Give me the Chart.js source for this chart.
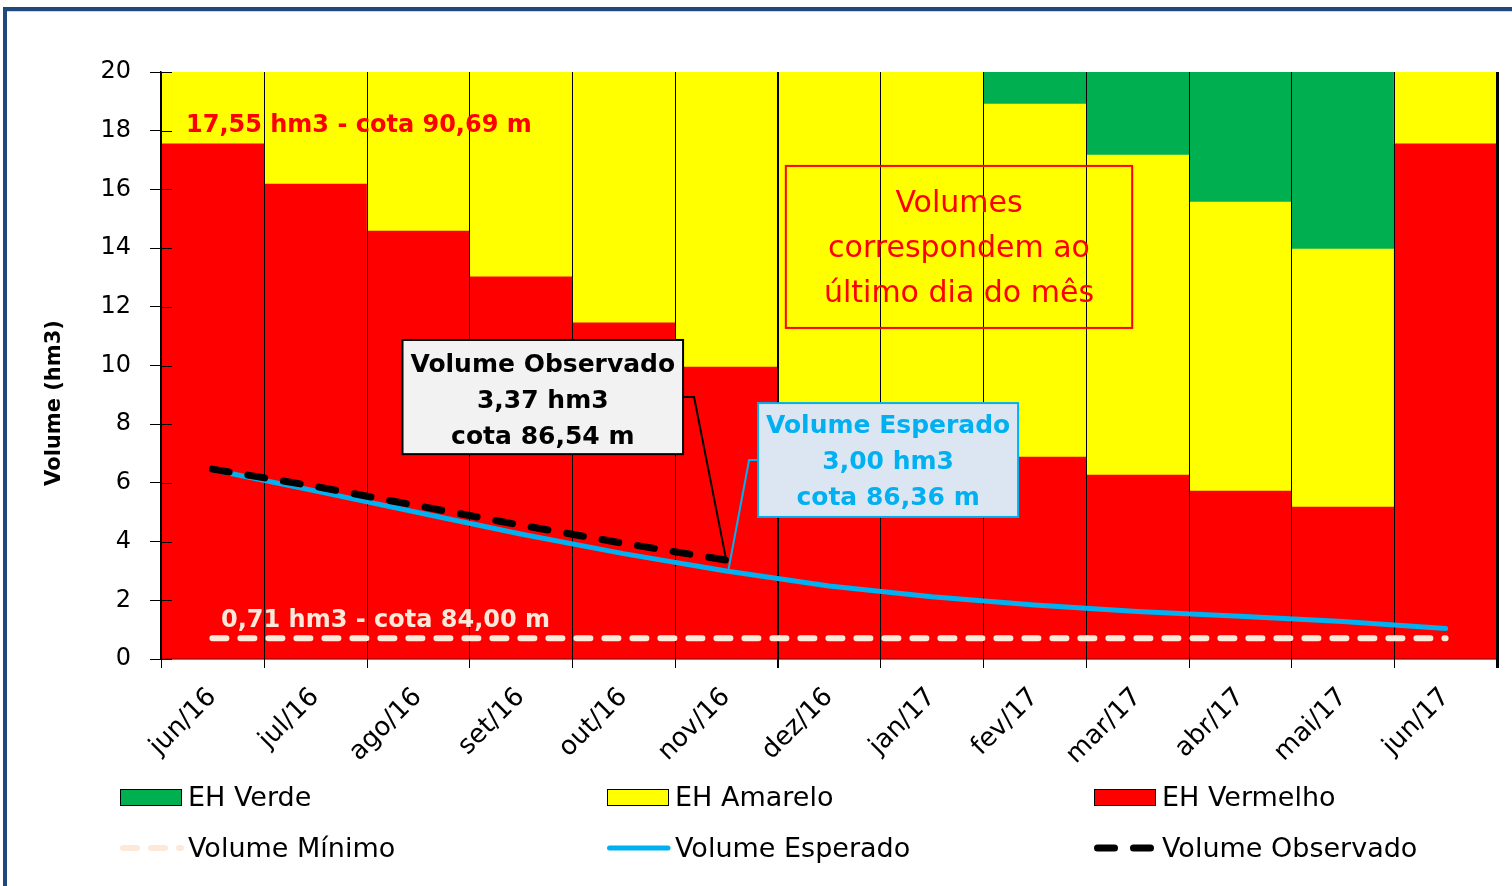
<!DOCTYPE html>
<html>
<head>
<meta charset="utf-8">
<script src="https://cdn.jsdelivr.net/npm/chart.js@4.4.1/dist/chart.umd.min.js"></script>
<style>
  html, body { margin: 0; padding: 0; background: #fff; }
  body { width: 1512px; height: 886px; overflow: hidden; position: relative; }
  #frame { position: absolute; left: 3px; top: 7px; width: 1600px; height: 1000px;
           border-left: 4px solid #1F497D; border-top: 4px solid #1F497D;
           box-shadow: inset 0 1px 0 #d4d4d4; }
  #wrap { position: absolute; left: 0; top: 0; width: 1512px; height: 886px; }
</style>
</head>
<body>
<div id="frame"></div>
<div id="wrap"><canvas id="chart" width="1512" height="886"></canvas></div>
<script>
const FONT = 'DejaVu Sans';

const months = ['jun/16', 'jul/16', 'ago/16', 'set/16', 'out/16', 'nov/16', 'dez/16',
                'jan/17', 'fev/17', 'mar/17', 'abr/17', 'mai/17', 'jun/17'];

// faixas empilhadas (hm3)
const ehVermelho = [17.55, 16.18, 14.58, 13.02, 11.45, 9.95, 8.50, 7.60, 6.88, 6.27, 5.72, 5.18, 17.55];
const ehAmarelo  = [2.45, 3.82, 5.42, 6.98, 8.55, 10.05, 11.50, 12.40, 12.03, 10.90, 9.85, 8.79, 2.45];
const ehVerde    = [0, 0, 0, 0, 0, 0, 0, 0, 1.09, 2.83, 4.43, 6.03, 0];

const volumeMinimo    = [0.71, 0.71, 0.71, 0.71, 0.71, 0.71, 0.71, 0.71, 0.71, 0.71, 0.71, 0.71, 0.71];
const volumeEsperado  = [6.45, 5.73, 4.99, 4.26, 3.59, 3.00, 2.49, 2.12, 1.84, 1.62, 1.46, 1.28, 1.04];
const volumeObservado = [6.47, 5.88, 5.22, 4.56, 3.94, 3.37, null, null, null, null, null, null, null];

const yTicks = [0, 2, 4, 6, 8, 10, 12, 14, 16, 18, 20];

// legenda na ordem do original
const legendOrder = ['EH Verde', 'EH Amarelo', 'EH Vermelho', 'Volume Mínimo', 'Volume Esperado', 'Volume Observado'];

function drawBox(ctx, x1, y1, x2, y2, fill, stroke) {
    if (fill) { ctx.fillStyle = fill; ctx.fillRect(x1, y1, x2 - x1, y2 - y1); }
    ctx.strokeStyle = stroke;
    ctx.lineWidth = 2;
    ctx.strokeRect(x1, y1, x2 - x1, y2 - y1);
}

function drawLines(ctx, lines, cx, firstBase, step, font, color) {
    ctx.font = font;
    ctx.fillStyle = color;
    ctx.textAlign = 'center';
    ctx.textBaseline = 'alphabetic';
    lines.forEach((t, i) => ctx.fillText(t, cx, firstBase + i * step));
}

// divisorias pretas entre as colunas, por cima das barras e por baixo das linhas
const separators = {
    id: 'separators',
    afterDatasetDraw(chart, args) {
        if (args.index !== 0) return;
        const ctx = chart.ctx;
        const xs = chart.scales.x;
        const area = chart.chartArea;
        ctx.save();
        ctx.strokeStyle = '#000';
        for (let i = 0; i <= months.length; i++) {
            const w = i === months.length ? 3 : (i === 6 ? 2 : 1);
            const x = Math.round(xs.getPixelForValue(i - 0.5)) + (w % 2 ? 0.5 : 0);
            ctx.lineWidth = w;
            ctx.beginPath();
            ctx.moveTo(x, area.top);
            ctx.lineTo(x, area.bottom + 9);
            ctx.stroke();
        }
        ctx.restore();
    }
};

const extras = {
    id: 'extras',
    afterDraw(chart) {
        const ctx = chart.ctx;
        const xs = chart.scales.x;
        const ys = chart.scales.y;
        const area = chart.chartArea;
        ctx.save();

        // marcas do eixo y cruzando para dentro
        ctx.strokeStyle = '#000';
        ctx.lineWidth = 1;
        yTicks.forEach(v => {
            const y = Math.round(ys.getPixelForValue(v)) + 0.5;
            ctx.beginPath();
            ctx.moveTo(area.left, y);
            ctx.lineTo(area.left + 11, y);
            ctx.stroke();
        });

        // titulo do eixo y
        ctx.save();
        ctx.translate(55, 403);
        ctx.rotate(-Math.PI / 2);
        ctx.font = 'bold 21px ' + FONT;
        ctx.fillStyle = '#000';
        ctx.textAlign = 'center';
        ctx.textBaseline = 'middle';
        ctx.fillText('Volume (hm3)', 0, 0);
        ctx.restore();

        // rotulos das cotas
        ctx.font = 'bold 24px ' + FONT;
        ctx.textAlign = 'left';
        ctx.textBaseline = 'alphabetic';
        ctx.fillStyle = '#FF0000';
        ctx.fillText('17,55 hm3 - cota 90,69 m', area.left + 25, ys.getPixelForValue(ehVermelho[0]) - 12);
        ctx.fillStyle = '#FDE9D9';
        ctx.fillText('0,71 hm3 - cota 84,00 m', area.left + 60, ys.getPixelForValue(volumeMinimo[0]) - 11);

        // chamadas no mes de nov/16
        const iNov = 5;
        const px = xs.getPixelForValue(iNov);
        const pyObs = ys.getPixelForValue(volumeObservado[iNov]);
        const pyEsp = ys.getPixelForValue(volumeEsperado[iNov]);

        const ob = { x1: xs.getPixelForValue(1.85), x2: xs.getPixelForValue(4.58),
                     y1: ys.getPixelForValue(10.87), y2: ys.getPixelForValue(6.98) };
        const ymidO = (ob.y1 + ob.y2) / 2;
        ctx.strokeStyle = '#000';
        ctx.lineWidth = 2;
        ctx.beginPath();
        ctx.moveTo(ob.x2, ymidO);
        ctx.lineTo(ob.x2 + 11, ymidO);
        ctx.lineTo(px, pyObs);
        ctx.stroke();

        const eb = { x1: xs.getPixelForValue(5.31), x2: xs.getPixelForValue(7.84),
                     y1: ys.getPixelForValue(8.72), y2: ys.getPixelForValue(4.84) };
        const ymidE = (eb.y1 + eb.y2) / 2;
        ctx.strokeStyle = '#00B0F0';
        ctx.beginPath();
        ctx.moveTo(eb.x1, ymidE);
        ctx.lineTo(eb.x1 - 9, ymidE);
        ctx.lineTo(px + 2, pyEsp);
        ctx.stroke();

        drawBox(ctx, ob.x1, ob.y1, ob.x2, ob.y2, '#F2F2F2', '#000');
        drawLines(ctx, ['Volume Observado', '3,37 hm3', 'cota 86,54 m'],
                  (ob.x1 + ob.x2) / 2, ob.y1 + 32, 36, 'bold 25px ' + FONT, '#000');

        drawBox(ctx, eb.x1, eb.y1, eb.x2, eb.y2, '#DCE6F2', '#00B0F0');
        drawLines(ctx, ['Volume Esperado', '3,00 hm3', 'cota 86,36 m'],
                  (eb.x1 + eb.x2) / 2, eb.y1 + 30, 36, 'bold 25px ' + FONT, '#00B0F0');

        // nota em vermelho
        const nb = { x1: xs.getPixelForValue(5.58), x2: xs.getPixelForValue(8.95),
                     y1: ys.getPixelForValue(16.80), y2: ys.getPixelForValue(11.28) };
        drawBox(ctx, nb.x1, nb.y1, nb.x2, nb.y2, null, '#FF0000');
        drawLines(ctx, ['Volumes', 'correspondem ao', 'último dia do mês'],
                  (nb.x1 + nb.x2) / 2, nb.y1 + 46, 45, '30px ' + FONT, '#FF0000');

        // legenda em grade 3x2
        const colX = [120, 607, 1094];
        const rowY = [797, 848];
        legendOrder.forEach((name, k) => {
            const ds = chart.data.datasets.find(d => d.label === name);
            const x = colX[k % 3];
            const y = rowY[Math.floor(k / 3)];
            if (ds.type === 'line') {
                ctx.strokeStyle = ds.borderColor;
                ctx.lineWidth = ds.borderWidth;
                ctx.lineCap = 'round';
                ctx.setLineDash(ds.borderDash || []);
                ctx.beginPath();
                ctx.moveTo(x + ds.borderWidth / 2, y);
                ctx.lineTo(x + 61, y);
                ctx.stroke();
                ctx.setLineDash([]);
                ctx.lineCap = 'butt';
            } else {
                ctx.fillStyle = ds.backgroundColor;
                ctx.fillRect(x, y - 8, 61, 16);
                ctx.strokeStyle = '#000';
                ctx.lineWidth = 1;
                ctx.strokeRect(x + 0.5, y - 7.5, 61, 16);
            }
            ctx.font = '27px ' + FONT;
            ctx.fillStyle = '#000';
            ctx.textAlign = 'left';
            ctx.textBaseline = 'alphabetic';
            ctx.fillText(name, x + 68, y + 9);
        });

        ctx.restore();
    }
};

const ctx = document.getElementById('chart').getContext('2d');
new Chart(ctx, {
    type: 'bar',
    data: {
        labels: months,
        datasets: [
            { label: 'EH Vermelho', data: ehVermelho, backgroundColor: '#FF0000', order: 3,
              barPercentage: 1, categoryPercentage: 1 },
            { label: 'EH Amarelo', data: ehAmarelo, backgroundColor: '#FFFF00', order: 3,
              barPercentage: 1, categoryPercentage: 1 },
            { label: 'EH Verde', data: ehVerde, backgroundColor: '#00B050', order: 3,
              barPercentage: 1, categoryPercentage: 1 },
            { type: 'line', label: 'Volume Mínimo', data: volumeMinimo, stack: 'min', order: 2,
              borderColor: '#FDE9D9', borderWidth: 6, borderDash: [14, 14], borderCapStyle: 'round',
              pointRadius: 0, tension: 0 },
            { type: 'line', label: 'Volume Esperado', data: volumeEsperado, stack: 'esp', order: 1,
              borderColor: '#00B0F0', borderWidth: 5, borderCapStyle: 'round', borderJoinStyle: 'round',
              pointRadius: 0, tension: 0 },
            { type: 'line', label: 'Volume Observado', data: volumeObservado, stack: 'obs', order: 0,
              borderColor: '#000000', borderWidth: 7, borderDash: [17, 19], borderCapStyle: 'round',
              pointRadius: 0, tension: 0 }
        ]
    },
    options: {
        responsive: false,
        animation: false,
        layout: { padding: { left: 30, right: 15, top: 72, bottom: 117 } },
        plugins: {
            legend: { display: false },
            tooltip: { enabled: false }
        },
        scales: {
            x: {
                stacked: true,
                grid: { display: false },
                border: { color: '#000', width: 1.5 },
                ticks: { color: '#000', font: { family: FONT, size: 26 }, minRotation: 45, maxRotation: 45, padding: 15 },
                afterFit(s) { s.height = 110; }
            },
            y: {
                stacked: true,
                min: 0,
                max: 20,
                grid: { drawOnChartArea: false, color: '#000', tickLength: 11 },
                border: { color: '#000', width: 1.5 },
                ticks: { stepSize: 2, color: '#000', font: { family: FONT, size: 24 }, padding: 19 },
                afterFit(s) { s.width = 131; }
            }
        }
    },
    plugins: [separators, extras]
});
</script>
</body>
</html>
